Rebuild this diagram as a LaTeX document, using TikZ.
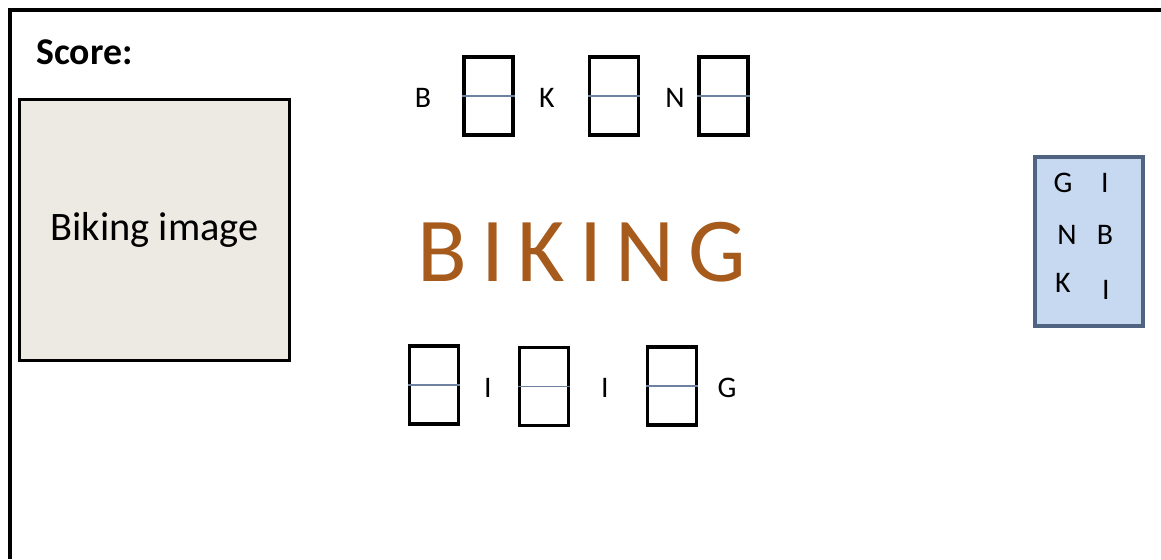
\documentclass[tikz,border=0pt]{standalone}
\usepackage{fontspec}
\setmainfont{Carlito}
\usepackage{tikz}
\usetikzlibrary{positioning}
\definecolor{wordbrown}{RGB}{166,90,28}
\definecolor{tilefill}{RGB}{198,217,240}
\definecolor{tileedge}{RGB}{80,100,130}
\definecolor{imgfill}{RGB}{236,234,226}
\definecolor{slotline}{RGB}{110,130,160}
\tikzset{
  slot/.style={draw,line width=2.1pt,minimum width=0.98cm,minimum height=1.56cm,inner sep=0pt},
  letter/.style={font=\fontsize{17}{19}\selectfont,inner sep=0pt}
}

\begin{document}
\begin{tikzpicture}[x=0.02cm,y=-0.02cm]
\useasboundingbox (0,0) rectangle (1161,559);
\draw[line width=2pt] (10,559) -- (10,10) -- (1161,10);
\node[font=\bfseries\fontsize{21.5}{24}\selectfont,anchor=west,inner sep=0pt] (score) at (36,52) {Score:};
\node[draw,line width=1.8pt,fill=imgfill,minimum width=5.4cm,minimum height=5.22cm,
  font=\fontsize{23}{26}\selectfont] (pic) at (154.5,230) {Biking image};
\node[font=\fontsize{52}{56}\selectfont\addfontfeature{LetterSpace=15},text=wordbrown,inner sep=0pt]
  (word) at (582,252) {BIKING};
% slots to fill
\foreach \s/\x/\y in {1/488.5/96, 2/614/96, 3/723.5/96, 4/434/385, 5/544/386.5, 6/672/386} {
  \node[slot] (s\s) at (\x,\y) {};
  \draw[slotline,line width=0.6pt] (s\s.west) -- (s\s.east);
}
% given letters
\foreach \l/\c/\x/\y in {b/B/423/98, k/K/547/98, n/N/675/98, i/I/488/388, j/I/605/388, g/G/727/388}
  \node[letter] (g\l) at (\x,\y) {\c};
% letter tile
\node[draw=tileedge,line width=2pt,fill=tilefill,minimum width=2.17cm,minimum height=3.39cm] (tile) at (1089,241.5) {};
\foreach \l/\c/\x/\y in {1/G/1063/183, 2/I/1105/183, 3/N/1067/235, 4/B/1105/235, 5/K/1063/283, 6/I/1106/290}
  \node[letter] (t\l) at (\x,\y) {\c};
\end{tikzpicture}
\end{document}
